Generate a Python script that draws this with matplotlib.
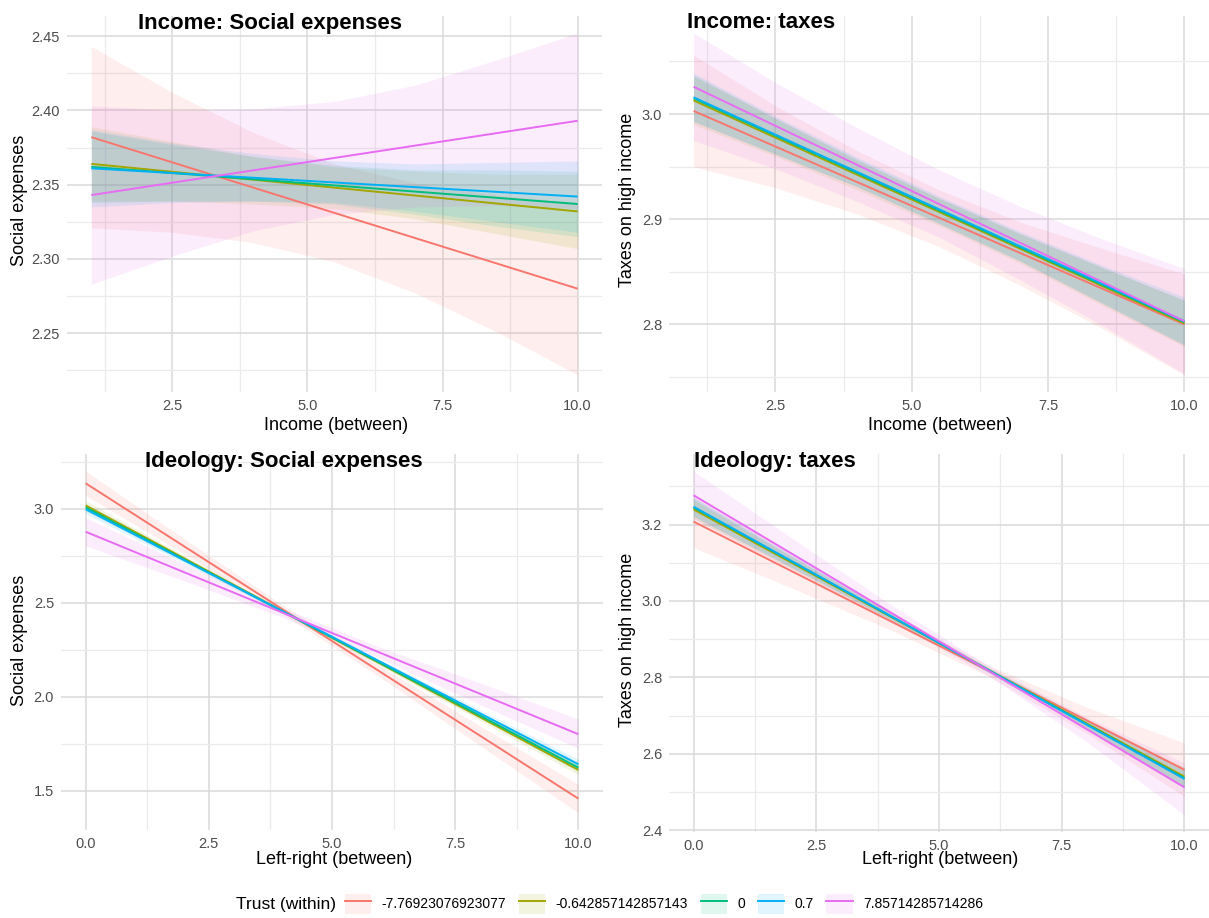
import matplotlib
matplotlib.use("Agg")
import matplotlib.pyplot as plt
from matplotlib.ticker import MultipleLocator, FormatStrFormatter
from matplotlib.patches import Patch
from matplotlib.lines import Line2D

plt.rcParams['font.family'] = ['Liberation Sans', 'DejaVu Sans']

W, H = 1209, 918

trust_levels = ["-7.76923076923077", "-0.642857142857143", "0", "0.7", "7.85714285714286"]
colors = ["#F8766D", "#A3A500", "#00BF7D", "#00B0F6", "#E76BF3"]

# --- Income: Social expenses ---
inc_x = [1, 2.5, 4, 5.5, 7, 8.5, 10]
inc_ends = [1, 10]
soc_inc_line = [[2.382, 2.280], [2.364, 2.332], [2.362, 2.337], [2.361, 2.342], [2.343, 2.393]]
soc_inc_lo = [
    [2.321, 2.318, 2.311, 2.298, 2.277, 2.251, 2.222],
    [2.339, 2.339, 2.337, 2.334, 2.327, 2.317, 2.307],
    [2.338, 2.339, 2.339, 2.337, 2.330, 2.322, 2.315],
    [2.335, 2.338, 2.339, 2.338, 2.332, 2.325, 2.318],
    [2.283, 2.302, 2.319, 2.330, 2.335, 2.336, 2.334],
]
soc_inc_hi = [
    [2.443, 2.412, 2.385, 2.364, 2.351, 2.343, 2.338],
    [2.389, 2.379, 2.369, 2.362, 2.359, 2.357, 2.357],
    [2.386, 2.377, 2.369, 2.363, 2.360, 2.360, 2.359],
    [2.387, 2.378, 2.371, 2.366, 2.364, 2.365, 2.366],
    [2.403, 2.400, 2.401, 2.406, 2.417, 2.434, 2.452],
]

# --- Income: taxes ---
tax_inc_line = [[3.003, 2.800], [3.013, 2.801], [3.015, 2.802], [3.016, 2.803], [3.026, 2.803]]
tax_inc_lo = [
    [2.950, 2.930, 2.905, 2.874, 2.837, 2.796, 2.752],
    [2.990, 2.960, 2.928, 2.894, 2.858, 2.818, 2.779],
    [2.993, 2.962, 2.931, 2.896, 2.860, 2.820, 2.781],
    [2.993, 2.962, 2.931, 2.896, 2.860, 2.820, 2.780],
    [2.975, 2.948, 2.917, 2.883, 2.842, 2.799, 2.753],
]
tax_inc_hi = [
    [3.056, 3.008, 2.965, 2.928, 2.897, 2.872, 2.848],
    [3.036, 2.996, 2.956, 2.920, 2.886, 2.854, 2.823],
    [3.037, 2.996, 2.957, 2.920, 2.886, 2.854, 2.823],
    [3.039, 2.998, 2.959, 2.922, 2.888, 2.856, 2.826],
    [3.077, 3.030, 2.987, 2.947, 2.912, 2.881, 2.853],
]

# --- Ideology: Social expenses ---
lr_x = [0, 2, 4, 6, 8, 10]
lr_ends = [0, 10]
soc_lr_line = [[3.136, 1.457], [3.018, 1.610], [3.008, 1.622], [2.998, 1.640], [2.878, 1.800]]
soc_lr_lo = [
    [3.071, 2.760, 2.441, 2.099, 1.741, 1.381],
    [2.993, 2.721, 2.446, 2.162, 1.874, 1.584],
    [2.988, 2.719, 2.447, 2.167, 1.884, 1.601],
    [2.974, 2.711, 2.446, 2.172, 1.894, 1.614],
    [2.803, 2.617, 2.422, 2.201, 1.958, 1.725],
]
soc_lr_hi = [
    [3.201, 2.840, 2.487, 2.159, 1.845, 1.533],
    [3.043, 2.751, 2.464, 2.184, 1.910, 1.636],
    [3.028, 2.743, 2.461, 2.185, 1.914, 1.643],
    [3.022, 2.741, 2.464, 2.194, 1.930, 1.666],
    [2.953, 2.707, 2.472, 2.261, 2.074, 1.880],
]

# --- Ideology: taxes ---
tax_lr_line = [[3.208, 2.558], [3.240, 2.540], [3.245, 2.536], [3.247, 2.534], [3.277, 2.512]]
tax_lr_lo = [
    [3.140, 3.034, 2.925, 2.804, 2.654, 2.488],
    [3.215, 3.084, 2.951, 2.814, 2.668, 2.515],
    [3.221, 3.088, 2.953, 2.814, 2.666, 2.512],
    [3.222, 3.088, 2.953, 2.813, 2.665, 2.509],
    [3.214, 3.083, 2.950, 2.805, 2.632, 2.440],
]
tax_lr_hi = [
    [3.276, 3.122, 2.971, 2.832, 2.722, 2.628],
    [3.265, 3.116, 2.969, 2.826, 2.692, 2.565],
    [3.269, 3.118, 2.969, 2.826, 2.690, 2.560],
    [3.272, 3.120, 2.971, 2.825, 2.689, 2.559],
    [3.340, 3.165, 2.992, 2.831, 2.696, 2.576],
]

RIB_ALPHA = 0.12


def box(x0, y0, x1, y1):
    # pixel box (top-left origin) -> figure fraction rect
    return [x0 / W, 1 - y1 / H, (x1 - x0) / W, (y1 - y0) / H]


def panel(ax, xs, ends, lines, lo, hi, ymajor, yminor, yfmt, xticks):
    for i in range(5):
        ax.fill_between(xs, lo[i], hi[i], color=colors[i], alpha=RIB_ALPHA, lw=0)
    for i in range(5):
        ax.plot(ends, lines[i], color=colors[i], lw=1.4, solid_capstyle='butt')
    ax.margins(x=0.05, y=0.05)
    ax.set_xticks(xticks)
    ax.xaxis.set_minor_locator(MultipleLocator(1.25))
    ax.yaxis.set_major_locator(MultipleLocator(ymajor))
    ax.yaxis.set_minor_locator(MultipleLocator(yminor))
    ax.xaxis.set_major_formatter(FormatStrFormatter('%.1f'))
    ax.yaxis.set_major_formatter(FormatStrFormatter(yfmt))
    ax.grid(which='major', color='#DADADA', lw=1.1)
    ax.grid(which='minor', color='#EBEBEB', lw=0.9)
    ax.set_axisbelow(True)
    for s in ax.spines.values():
        s.set_visible(False)
    ax.tick_params(which='both', length=0, labelsize=10.5, labelcolor='#4D4D4D', pad=5)


fig = plt.figure(figsize=(W / 100, H / 100), dpi=100)

ax1 = fig.add_axes(box(67, 16, 602, 392))
panel(ax1, inc_x, inc_ends, soc_inc_line, soc_inc_lo, soc_inc_hi, 0.05, 0.025, '%.2f', [2.5, 5, 7.5, 10])
ax2 = fig.add_axes(box(669, 16, 1209, 392))
panel(ax2, inc_x, inc_ends, tax_inc_line, tax_inc_lo, tax_inc_hi, 0.1, 0.05, '%.1f', [2.5, 5, 7.5, 10])
ax3 = fig.add_axes(box(61, 454, 603, 830))
panel(ax3, lr_x, lr_ends, soc_lr_line, soc_lr_lo, soc_lr_hi, 0.5, 0.25, '%.1f', [0, 2.5, 5, 7.5, 10])
ax4 = fig.add_axes(box(669, 454, 1209, 832))
panel(ax4, lr_x, lr_ends, tax_lr_line, tax_lr_lo, tax_lr_hi, 0.2, 0.1, '%.1f', [0, 2.5, 5, 7.5, 10])

def ftext(x, y, s, **kw):
    fig.text(x / W, 1 - y / H, s, **kw)

# titles
tkw = dict(fontsize=16, fontweight='bold', ha='left', va='center')
ftext(138, 23, "Income: Social expenses", **tkw)
ftext(687, 23, "Income: taxes", **tkw)
ftext(145, 461, "Ideology: Social expenses", **tkw)
ftext(694, 461, "Ideology: taxes", **tkw)

# axis titles
akw = dict(fontsize=13, ha='center', va='center')
ftext(336, 425, "Income (between)", **akw)
ftext(940, 425, "Income (between)", **akw)
ftext(334, 860, "Left-right (between)", **akw)
ftext(940, 860, "Left-right (between)", **akw)
ftext(20, 200, "Social expenses", rotation=90, **akw)
ftext(627, 200, "Taxes on high income", rotation=90, **akw)
ftext(20, 640, "Social expenses", rotation=90, **akw)
ftext(627, 640, "Taxes on high income", rotation=90, **akw)

# legend
ftext(236, 905, "Trust (within)", fontsize=12.5, ha='left', va='center')
handles = [(Patch(facecolor=c, alpha=RIB_ALPHA, lw=0), Line2D([], [], color=c, lw=1.4)) for c in colors]
fig.legend(handles, trust_levels, loc='center left', bbox_to_anchor=(345 / W, 1 - 904 / H),
           ncol=5, frameon=False, fontsize=10, handlelength=1.9, handleheight=1.9,
           handletextpad=0.75, columnspacing=0.9, borderpad=0, borderaxespad=0)

fig.savefig("out.png", dpi=100)
